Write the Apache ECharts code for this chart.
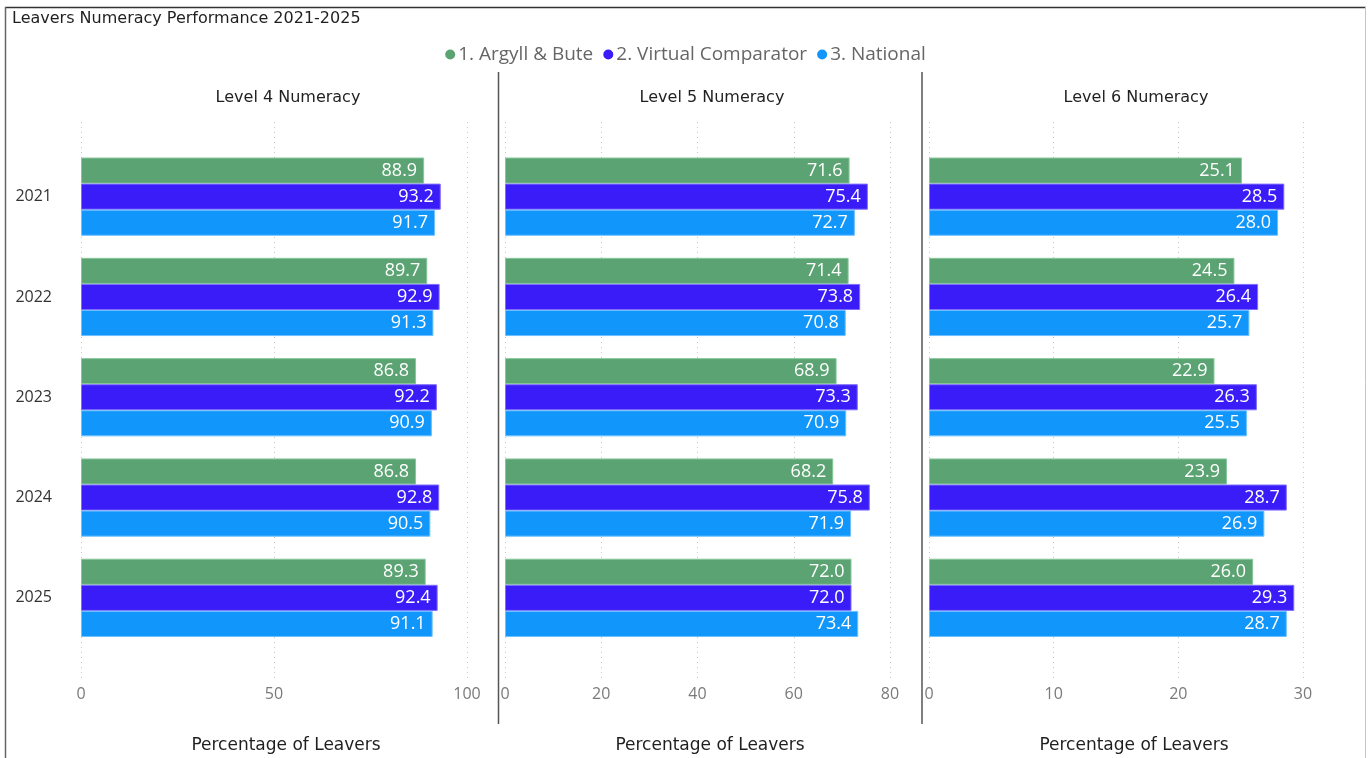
<!DOCTYPE html>
<html>
<head>
<meta charset="utf-8">
<title>Leavers Numeracy Performance 2021-2025</title>
<script src="https://cdn.jsdelivr.net/npm/echarts@6/dist/echarts.min.js"></script>
<style>
  html, body { margin: 0; padding: 0; background: #fff; }
  #chart { width: 1371px; height: 758px; }
</style>
</head>
<body>
<div id="chart"></div>
<script>
// Years on the category axis
const years = ['2021', '2022', '2023', '2024', '2025'];
const seriesNames = ['1. Argyll & Bute', '2. Virtual Comparator', '3. National'];
const panelTitles = ['Level 4 Numeracy', 'Level 5 Numeracy', 'Level 6 Numeracy'];

// Level 4 numeracy (% of leavers)
const level4Argyll = [88.9, 89.7, 86.8, 86.8, 89.3];
const level4Virtual = [93.2, 92.9, 92.2, 92.8, 92.4];
const level4National = [91.7, 91.3, 90.9, 90.5, 91.1];

// Level 5 numeracy (% of leavers)
const level5Argyll = [71.6, 71.4, 68.9, 68.2, 72.0];
const level5Virtual = [75.4, 73.8, 73.3, 75.8, 72.0];
const level5National = [72.7, 70.8, 70.9, 71.9, 73.4];

// Level 6 numeracy (% of leavers)
const level6Argyll = [25.1, 24.5, 22.9, 23.9, 26.0];
const level6Virtual = [28.5, 26.4, 26.3, 28.7, 29.3];
const level6National = [28.0, 25.7, 25.5, 26.9, 28.7];

// Value-axis ranges per panel
const axisMax = [100, 80, 30];
const axisStep = [50, 20, 10];

const colors = ['#5BA372', '#3A1CF8', '#1196FB'];
const borders = ['#86c79b', '#7f6cff', '#6cc0ff'];

const panelData = [
  [level4Argyll, level4Virtual, level4National],
  [level5Argyll, level5Virtual, level5National],
  [level6Argyll, level6Virtual, level6National]
];

// Horizontal placement of each panel's plot area
const panelLeft = [81, 505, 929];
const panelRight = [467, 890, 1303];
const W = 1371;

const grids = [];
const xAxes = [];
const yAxes = [];
const series = [];

panelData.forEach((sets, p) => {
  const left = panelLeft[p];
  const right = W - panelRight[p];
  // bar area
  grids.push({ left: left, right: right, top: 146.5, height: 501.5 });
  // taller area carrying the dotted gridlines and tick labels
  grids.push({ left: left, right: right, top: 122, height: 558 });

  const gBar = p * 2;
  const gLine = p * 2 + 1;

  xAxes.push({
    gridIndex: gBar, type: 'value', min: 0, max: axisMax[p], interval: axisStep[p],
    show: false
  });
  xAxes.push({
    gridIndex: gLine, type: 'value', min: 0, max: axisMax[p], interval: axisStep[p],
    axisLine: { show: false }, axisTick: { show: false },
    axisLabel: { color: '#7a7a7a', fontSize: 16, fontFamily: 'Open Sans', margin: 6 },
    splitLine: { show: true, lineStyle: { color: '#c8c8c8', type: [1, 4], width: 1 } }
  });

  yAxes.push({
    gridIndex: gBar, type: 'category', data: years, inverse: true,
    axisLine: { show: false }, axisTick: { show: false },
    axisLabel: {
      show: p === 0, color: '#333', fontSize: 16, fontFamily: 'Open Sans', margin: 29
    },
    splitLine: { show: false }
  });
  yAxes.push({ gridIndex: gLine, type: 'value', show: false, min: 0, max: 1 });

  sets.forEach((vals, s) => {
    series.push({
      name: seriesNames[s],
      type: 'bar',
      xAxisIndex: p * 2,
      yAxisIndex: p * 2,
      data: vals,
      barGap: '0%',
      barCategoryGap: '22%',
      itemStyle: { color: colors[s], borderColor: borders[s], borderWidth: 1 },
      label: {
        show: true, position: 'insideRight', distance: 7,
        color: '#fff', fontSize: 18, fontFamily: 'Open Sans',
        formatter: (d) => d.value.toFixed(1)
      },
      emphasis: { disabled: true },
      animation: false
    });
  });
});

const titleFont = 'DejaVu Sans';
const titles = [
  { text: 'Leavers Numeracy Performance 2021-2025', left: 12, top: 11, padding: 0,
    textStyle: { fontSize: 16, fontWeight: 'normal', color: '#1f1f1f', fontFamily: titleFont } }
];
const panelCenters = [288, 712, 1136];
const axisTitleCenters = [286, 710, 1134];
panelTitles.forEach((t, i) => {
  titles.push({ text: t, left: panelCenters[i], top: 90, padding: 0, textAlign: 'center',
    textStyle: { fontSize: 16, fontWeight: 'normal', color: '#1f1f1f', fontFamily: titleFont } });
  titles.push({ text: 'Percentage of Leavers', left: axisTitleCenters[i], top: 737, padding: 0, textAlign: 'center',
    textStyle: { fontSize: 17, fontWeight: 'normal', color: '#1f1f1f', fontFamily: titleFont } });
});

const chart = echarts.init(document.getElementById('chart'), null, { renderer: 'canvas' });
chart.setOption({
  animation: false,
  title: titles,
  legend: {
    data: seriesNames, top: 40, left: 'center', icon: 'circle',
    itemWidth: 10, itemHeight: 10, itemGap: 10, selectedMode: false,
    itemStyle: { borderWidth: 0 },
    textStyle: { color: '#666', fontSize: 19, fontFamily: 'Open Sans', padding: [0, 0, 0, -2] }
  },
  grid: grids,
  xAxis: xAxes,
  yAxis: yAxes,
  series: series,
  graphic: [
    // frame
    { type: 'line', shape: { x1: 5, y1: 7.5, x2: 1366, y2: 7.5 }, style: { stroke: '#333', lineWidth: 1.5 } },
    { type: 'line', shape: { x1: 5.5, y1: 7, x2: 5.5, y2: 758 }, style: { stroke: '#666', lineWidth: 1.5 } },
    { type: 'line', shape: { x1: 1365.5, y1: 7, x2: 1365.5, y2: 758 }, style: { stroke: '#c4c4c4', lineWidth: 1 } },
    // panel separators
    { type: 'line', shape: { x1: 498.5, y1: 72, x2: 498.5, y2: 724 }, style: { stroke: '#555', lineWidth: 1.5 } },
    { type: 'line', shape: { x1: 922, y1: 72, x2: 922, y2: 724 }, style: { stroke: '#555', lineWidth: 1.5 } }
  ]
});
</script>
</body>
</html>
